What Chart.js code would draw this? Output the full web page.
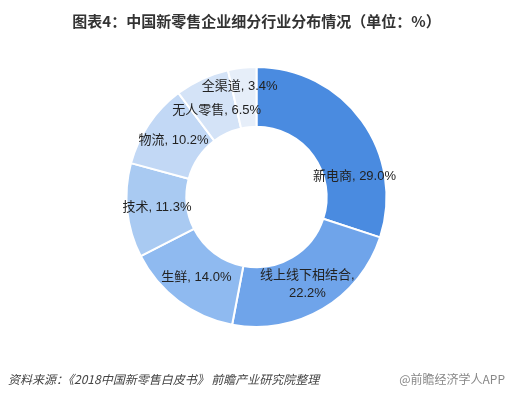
<!DOCTYPE html>
<html>
<head>
<meta charset="utf-8">
<script src="https://cdn.jsdelivr.net/npm/chart.js@4/dist/chart.umd.min.js"></script>
<style>
  html, body { margin: 0; padding: 0; background: #fff; }
  #wrap { position: relative; width: 513px; height: 396px; overflow: hidden; }
  #myChart { position: absolute; left: 0; top: 0; }
  .title { position: absolute; left: 0; width: 513px; top: 10px; text-align: center;
    font: bold 15px "Noto Sans CJK SC", "Liberation Sans", sans-serif; color: #333; }
  .source { position: absolute; left: 8px; top: 370px; font: italic 12px "Noto Sans CJK SC", sans-serif; color: #444; }
  .brand { position: absolute; right: 8px; top: 370px; font: 12px "Noto Sans CJK SC", sans-serif; color: #888; }
</style>
</head>
<body>
<div id="wrap">
  <canvas id="myChart" width="513" height="396"></canvas>
  <div class="title">图表4：中国新零售企业细分行业分布情况（单位：%）</div>
  <div class="source">资料来源：《2018中国新零售白皮书》 前瞻产业研究院整理</div>
  <div class="brand">@前瞻经济学人APP</div>
</div>
<script>
var labelList = ['新电商', '线上线下相结合', '生鲜', '技术', '物流', '无人零售', '全渠道']
var valueList = [29.0, 22.2, 14.0, 11.3, 10.2, 6.5, 3.4]
var barColors = ['#4a8be0', '#6fa4ea', '#8fbaf0', '#a9caf2', '#c2d8f5', '#d4e3f7', '#e6eef9']

// label placement tweaks: angle shift (radians), extra radius, line break
var labelShift = { 0: 0.42, 6: -0.04 }
var labelPush = { 5: -5, 6: 12 }
var labelBreak = { 1: true }

var sliceLabels = {
    id: 'sliceLabels',
    afterDatasetsDraw: function (chart) {
        var ctx = chart.ctx
        var meta = chart.getDatasetMeta(0)
        ctx.save()
        ctx.font = '13px "Liberation Sans", "Noto Sans CJK SC", sans-serif'
        ctx.fillStyle = '#222'
        ctx.textAlign = 'center'
        ctx.textBaseline = 'middle'
        meta.data.forEach(function (arc, i) {
            var p = arc.getProps(['x', 'y', 'startAngle', 'endAngle', 'innerRadius', 'outerRadius'], true)
            var a = (p.startAngle + p.endAngle) / 2 + (labelShift[i] || 0)
            var r = (p.innerRadius + p.outerRadius) / 2 + (labelPush[i] || 0)
            var x = p.x + Math.cos(a) * r
            var y = p.y + Math.sin(a) * r
            var val = valueList[i].toFixed(1) + '%'
            if (labelBreak[i]) {
                ctx.fillText(labelList[i] + ',', x, y - 8)
                ctx.fillText(val, x, y + 10)
            } else {
                ctx.fillText(labelList[i] + ', ' + val, x, y)
            }
        })
        ctx.restore()
    }
}

var myChart = new Chart('myChart', {
    type: 'doughnut',
    data: {
        labels: labelList,
        datasets: [{
            backgroundColor: barColors,
            borderColor: '#fff',
            borderWidth: 2,
            data: valueList
        }]
    },
    options: {
        responsive: false,
        animation: false,
        cutout: '54%',
        layout: { padding: { top: 66, bottom: 68, left: 0, right: 0 } },
        plugins: {
            legend: { display: false },
            tooltip: { enabled: false }
        }
    },
    plugins: [sliceLabels]
});
</script>
</body>
</html>
